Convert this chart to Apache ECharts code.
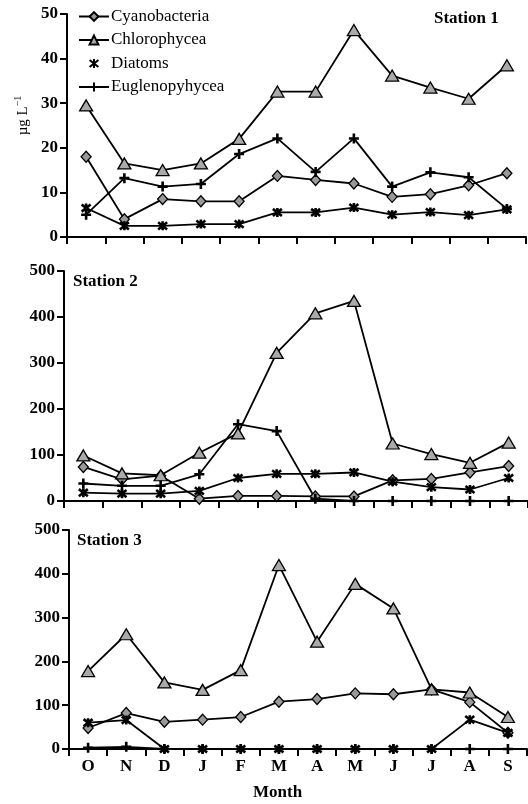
<!DOCTYPE html>
<html>
<head>
<meta charset="utf-8">
<script src="https://cdn.jsdelivr.net/npm/echarts@6/dist/echarts.min.js"></script>
<style>
html, body { margin: 0; padding: 0; background: #fff; }
#chart { width: 528px; height: 804px; }
</style>
</head>
<body>
<div id="chart"></div>
<script>
var months = ['O', 'N', 'D', 'J', 'F', 'M', 'A', 'M', 'J', 'J', 'A', 'S'];
var groups = ['Cyanobacteria', 'Chlorophycea', 'Diatoms', 'Euglenopyhycea'];

// Station 1 (µg/L)
var cyano1 = [18, 4, 8.5, 8, 8, 13.7, 12.8, 12, 9, 9.6, 11.6, 14.3];
var chloro1 = [29.5, 16.5, 15, 16.5, 22, 32.6, 32.6, 46.4, 36.2, 33.5, 31, 38.5];
var diatom1 = [6.5, 2.5, 2.5, 2.9, 2.9, 5.5, 5.5, 6.6, 5, 5.6, 4.9, 6.2];
var eugleno1 = [5, 13.2, 11.3, 11.9, 18.6, 22.1, 14.6, 22.1, 11.3, 14.5, 13.4, 6.3];

// Station 2
var cyano2 = [74, 47, 55, 5, 11, 11, 10, 10, 45, 48, 62, 76];
var chloro2 = [99, 60, 56, 105, 147, 322, 408, 435, 125, 102, 83, 127];
var diatom2 = [18, 16, 16, 22, 50, 59, 59, 62, 42, 30, 25, 50];
var eugleno2 = [38, 33, 33, 58, 167, 152, 5, 0, 0, 0, 0, 0];

// Station 3
var cyano3 = [48, 82, 62, 67, 73, 108, 114, 127, 125, 136, 107, 37];
var chloro3 = [178, 262, 152, 135, 180, 420, 245, 377, 321, 136, 129, 73];
var diatom3 = [60, 66, 0, 0, 0, 0, 0, 0, 0, 0, 67, 37];
var eugleno3 = [3, 5, 0, 0, 0, 0, 0, 0, 0, 0, 0, 0];

var stations = ['Station 1', 'Station 2', 'Station 3'];
var yMax = [50, 500, 500];
var yStep = [10, 100, 100];

var serif = 'Liberation Serif';
var plusPath = 'path://M5,0L5,10M0,5L10,5';
var starPath = 'path://M1,1L9,9M9,1L1,9M5,0L5,10';

var chart = echarts.init(document.getElementById('chart'));

var grids = [
    {left: 67, right: 2, top: 14, height: 223},
    {left: 64, right: -7, top: 271, height: 230},
    {left: 69, right: 1, top: 530, height: 219}
];

var xAxes = grids.map(function (g, i) {
    return {
        type: 'category',
        gridIndex: i,
        data: months,
        boundaryGap: true,
        axisLine: {lineStyle: {color: '#000', width: 2}},
        axisTick: {show: true, inside: false, length: 7, lineStyle: {color: '#000', width: 2}},
        axisLabel: {
            show: i == 2,
            color: '#000',
            fontFamily: serif,
            fontWeight: 'bold',
            fontSize: 17,
            margin: 9
        }
    };
});

var yAxes = grids.map(function (g, i) {
    return {
        type: 'value',
        gridIndex: i,
        min: 0,
        max: yMax[i],
        interval: yStep[i],
        splitLine: {show: false},
        axisLine: {show: true, lineStyle: {color: '#000', width: 2}},
        axisTick: {show: true, length: 7, lineStyle: {color: '#000', width: 2}},
        axisLabel: {
            color: '#000',
            fontFamily: serif,
            fontWeight: 'bold',
            fontSize: 17,
            margin: 9
        },
        name: i == 0 ? '{a|µg L}{b|−1}' : '',
        nameLocation: 'middle',
        nameRotate: 90,
        nameGap: 29,
        nameTextStyle: {
            padding: [0, 0, 0, 20],
            rich: {
                a: {fontFamily: serif, fontSize: 15, color: '#000'},
                b: {fontFamily: serif, fontSize: 10, color: '#000', verticalAlign: 'top', padding: [0, 0, 8, 0]}
            }
        }
    };
});

function makeSeries(name, data, idx, symbol, size, fill) {
    return {
        name: name,
        type: 'line',
        xAxisIndex: idx,
        yAxisIndex: idx,
        data: data,
        symbol: symbol,
        symbolSize: size,
        showAllSymbol: true,
        lineStyle: {color: '#000', width: 1.8},
        itemStyle: {color: fill, borderColor: '#000', borderWidth: fill == '#000' ? 2.6 : 1.3},
        emphasis: {disabled: true},
        animation: false
    };
}

var stationData = [
    [cyano1, chloro1, diatom1, eugleno1],
    [cyano2, chloro2, diatom2, eugleno2],
    [cyano3, chloro3, diatom3, eugleno3]
];

var series = [];
stationData.forEach(function (sets, i) {
    series.push(makeSeries(groups[0], sets[0], i, 'diamond', [10, 11], '#999'));
    series.push(makeSeries(groups[1], sets[1], i, 'triangle', [13, 11], '#aaa'));
    series.push(makeSeries(groups[2], sets[2], i, starPath, [9, 9], '#000'));
    series.push(makeSeries(groups[3], sets[3], i, plusPath, [10, 10], '#000'));
});

var option = {
    backgroundColor: '#fff',
    animation: false,
    title: [
        {text: stations[0], left: 434, top: 10},
        {text: stations[1], left: 73, top: 273},
        {text: stations[2], left: 77, top: 532}
    ].map(function (t) {
        t.padding = 0;
        t.textStyle = {fontFamily: serif, fontWeight: 'bold', fontSize: 17, color: '#000'};
        return t;
    }),
    legend: {
        orient: 'vertical',
        left: 78,
        top: 8,
        itemWidth: 30,
        itemHeight: 11,
        itemGap: 6.5,
        padding: 0,
        selectedMode: false,
        textStyle: {fontFamily: serif, fontSize: 17, color: '#000', padding: [0, 0, 0, -3]},
        data: [
            {name: groups[0]},
            {name: groups[1]},
            {name: groups[2], lineStyle: {opacity: 0}},
            {name: groups[3]}
        ]
    },
    grid: grids,
    xAxis: xAxes,
    yAxis: yAxes,
    graphic: [{
        type: 'text',
        left: 253,
        top: 784,
        style: {text: 'Month', fontFamily: serif, fontWeight: 'bold', fontSize: 17, fill: '#000'}
    }],
    series: series
};

chart.setOption(option);
</script>
</body>
</html>
